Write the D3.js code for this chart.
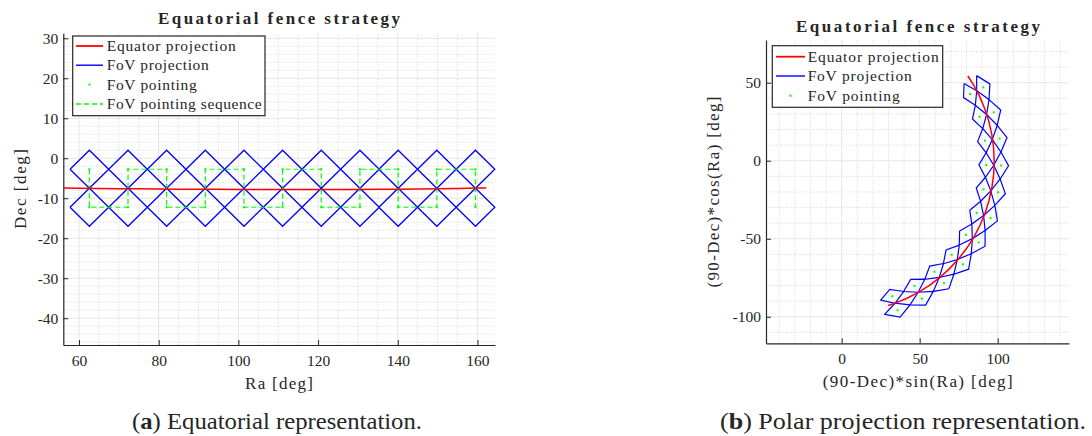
<!DOCTYPE html>
<html>
<head>
<meta charset="utf-8">
<script src="https://cdn.jsdelivr.net/npm/d3@7"></script>
<style>
  body { margin: 0; background: #fff; }
  text { font-family: "Liberation Serif", "DejaVu Serif", serif; fill: #262626; }
</style>
</head>
<body>
<script>
// ---------------- DATA ----------------
// FoV pointing centres (Ra, deg) and the two Dec rows (deg)
const pointRa = [62.6, 72.3, 82.0, 91.7, 101.4, 111.1, 120.8, 130.5, 140.1, 149.8, 159.5];
const pointDec = [-2.75, -12.25];
// FoV half diagonals (deg)
const fovHalfRa = 4.85;
const fovHalfDec = 4.75;
// Equator projection (Ra, Dec) in deg
const eqRa  = [56.1, 60, 65, 70, 75, 80, 85, 90, 95, 100, 105, 110, 115, 120, 125, 130, 135, 140, 145, 150, 155, 160, 162.2];
const eqDec = [-7.42, -7.48, -7.55, -7.6, -7.65, -7.69, -7.72, -7.75, -7.78, -7.8, -7.82, -7.83, -7.83, -7.83, -7.82, -7.8, -7.77, -7.73, -7.68, -7.62, -7.55, -7.46, -7.42];
// Ticks
const xTicksL = [60, 80, 100, 120, 140, 160];
const yTicksL = [-40, -30, -20, -10, 0, 10, 20, 30];
const xTicksR = [0, 50, 100];
const yTicksR = [-100, -50, 0, 50];
// Legend labels
const legendL = ["Equator projection", "FoV projection", "FoV pointing", "FoV pointing sequence"];
const legendR = ["Equator projection", "FoV projection", "FoV pointing"];

// ---------------- SETUP ----------------
const W = 1092, H = 436;
const svg = d3.select("body").append("svg").attr("width", W).attr("height", H);
svg.append("rect").attr("width", W).attr("height", H).attr("fill", "#fff");

const axisCol = "#262626";
const RED = "#ff0000", BLUE = "#0000ff", GREEN = "#00ff00";

// pointing sequence: alternate top/bottom order per column
const seq = [];
pointRa.forEach((ra, i) => {
  const order = (i % 2 === 0) ? [pointDec[0], pointDec[1]] : [pointDec[1], pointDec[0]];
  order.forEach(d => seq.push([ra, d]));
});
const pointings = [];
pointRa.forEach(ra => pointDec.forEach(d => pointings.push([ra, d])));
const diamond = ([ra, dec]) => [
  [ra - fovHalfRa, dec], [ra, dec + fovHalfDec], [ra + fovHalfRa, dec], [ra, dec - fovHalfDec], [ra - fovHalfRa, dec]
];
const equator = eqRa.map((r, i) => [r, eqDec[i]]);
const rad = Math.PI / 180;
const polar = ([ra, dec]) => [(90 - dec) * Math.sin(ra * rad), (90 - dec) * Math.cos(ra * rad)];

function grid(g, x, y, xMaj, yMaj, xMin, yMin) {
  const [x0, x1] = x.range(), [y0, y1] = y.range();
  g.selectAll(".gxm").data(xMin).join("line")
    .attr("x1", d => x(d)).attr("x2", d => x(d)).attr("y1", y0).attr("y2", y1)
    .attr("stroke", "#cfcfcf").attr("stroke-width", 0.8).attr("stroke-dasharray", "1 1.5");
  g.selectAll(".gym").data(yMin).join("line")
    .attr("y1", d => y(d)).attr("y2", d => y(d)).attr("x1", x0).attr("x2", x1)
    .attr("stroke", "#cfcfcf").attr("stroke-width", 0.8).attr("stroke-dasharray", "1 1.5");
  g.selectAll(".gxM").data(xMaj).join("line")
    .attr("x1", d => x(d)).attr("x2", d => x(d)).attr("y1", y0).attr("y2", y1)
    .attr("stroke", "#e2e2e2").attr("stroke-width", 0.9);
  g.selectAll(".gyM").data(yMaj).join("line")
    .attr("y1", d => y(d)).attr("y2", d => y(d)).attr("x1", x0).attr("x2", x1)
    .attr("stroke", "#e2e2e2").attr("stroke-width", 0.9);
}
function range(a, b, s) { const o = []; for (let v = a; v <= b + 1e-9; v += s) o.push(+v.toFixed(6)); return o; }

function axes(x, y, xt, yt, xPad) {
  const gx = svg.append("g").attr("transform", `translate(0,${y.range()[0]})`)
    .call(d3.axisBottom(x).tickValues(xt).tickSizeInner(-5).tickSizeOuter(0).tickPadding(xPad).tickFormat(d => String(d)));
  const gy = svg.append("g").attr("transform", `translate(${x.range()[0]},0)`)
    .call(d3.axisLeft(y).tickValues(yt).tickSizeInner(-5).tickSizeOuter(0).tickPadding(5).tickFormat(d => String(d)));
  [gx, gy].forEach(g => {
    g.select(".domain").attr("stroke", axisCol).attr("stroke-width", 1.2);
    g.selectAll(".tick line").attr("stroke", axisCol).attr("stroke-width", 1);
    g.selectAll(".tick text").attr("font-family", "Liberation Serif").attr("font-size", 15.5).attr("fill", axisCol);
  });
}
function label(txt, x, y, size, len, opts = {}) {
  const t = svg.append("text").attr("x", x).attr("y", y).attr("text-anchor", opts.anchor || "middle")
    .attr("font-size", size).text(txt);
  if (opts.bold) t.attr("font-weight", "bold");
  if (opts.rotate) t.attr("transform", `rotate(-90,${x},${y})`);
  if (len) t.attr("textLength", len).attr("lengthAdjust", "spacing");
  return t;
}
function legend(x0, y0, w, h, rows, labels, rowYs, lx0, lx1, tx, lens) {
  const g = svg.append("g");
  g.append("rect").attr("x", x0).attr("y", y0).attr("width", w).attr("height", h)
    .attr("fill", "#fff").attr("stroke", axisCol).attr("stroke-width", 1.2);
  labels.forEach((lab, i) => {
    const yy = rowYs[i];
    const kind = rows[i];
    if (kind === "red" || kind === "blue" || kind === "dash") {
      g.append("line").attr("x1", lx0).attr("x2", lx1).attr("y1", yy).attr("y2", yy)
        .attr("stroke", kind === "red" ? RED : kind === "blue" ? BLUE : GREEN)
        .attr("stroke-width", kind === "red" ? 1.8 : 1.4)
        .attr("stroke-dasharray", kind === "dash" ? "5 3" : null);
    } else {
      g.append("rect").attr("x", (lx0 + lx1) / 2 - 1).attr("y", yy - 1).attr("width", 2).attr("height", 2).attr("fill", GREEN);
    }
    g.append("text").attr("x", tx).attr("y", yy + 5).attr("font-size", 15.5)
      .attr("textLength", lens[i]).attr("lengthAdjust", "spacing").text(lab);
  });
}

// ---------------- LEFT PANEL ----------------
const xL = d3.scaleLinear().domain([56.06, 164.4]).range([63.3, 495]);
const yL = d3.scaleLinear().domain([-46.7, 31.25]).range([345, 33.3]);
grid(svg.append("g"), xL, yL, xTicksL, yTicksL,
  range(60, 164, 5).filter(v => !xTicksL.includes(v)),
  range(-46, 30, 2).filter(v => !yTicksL.includes(v)));

const lineL = d3.line().x(d => xL(d[0])).y(d => yL(d[1]));
const gL = svg.append("g");
gL.selectAll(".dia").data(pointings).join("path")
  .attr("d", d => lineL(diamond(d))).attr("fill", "none").attr("stroke", BLUE).attr("stroke-width", 1.3);
gL.selectAll(".pt").data(pointings).join("rect")
  .attr("x", d => xL(d[0]) - 1).attr("y", d => yL(d[1]) - 1).attr("width", 2).attr("height", 2).attr("fill", GREEN);
gL.append("path").attr("d", lineL(seq)).attr("fill", "none").attr("stroke", GREEN)
  .attr("stroke-width", 1.2).attr("stroke-dasharray", "5 3");
gL.append("path").attr("d", lineL(equator)).attr("fill", "none").attr("stroke", RED).attr("stroke-width", 1.5);

axes(xL, yL, xTicksL, yTicksL, 9.5);
label("Equatorial fence strategy", 279, 23.5, 17, 242, { bold: true });
label("Ra [deg]", 279, 389, 17, 68);
label("Dec [deg]", 26, 189, 17, 80, { rotate: true });
legend(72.7, 36, 192.3, 79.7, ["red", "blue", "dot", "dash"], legendL, [46, 65.2, 84.6, 104], 76, 103, 106.7, [129, 102, 90, 155]);

// ---------------- RIGHT PANEL ----------------
const xR = d3.scaleLinear().domain([-48.5, 145.7]).range([766, 1069]);
const yR = d3.scaleLinear().domain([-117, 77.4]).range([343.3, 40]);
grid(svg.append("g"), xR, yR, xTicksR, yTicksR,
  range(-40, 140, 10).filter(v => !xTicksR.includes(v)),
  range(-110, 70, 10).filter(v => !yTicksR.includes(v)));

const lineR = d3.line().x(d => xR(polar(d)[0])).y(d => yR(polar(d)[1]));
const gR = svg.append("g");
gR.selectAll(".dia").data(pointings).join("path")
  .attr("d", d => lineR(diamond(d))).attr("fill", "none").attr("stroke", BLUE).attr("stroke-width", 1.2);
gR.selectAll(".pt").data(pointings).join("rect")
  .attr("x", d => xR(polar(d)[0]) - 1).attr("y", d => yR(polar(d)[1]) - 1).attr("width", 2).attr("height", 2).attr("fill", GREEN);
gR.append("path").attr("d", lineR(equator)).attr("fill", "none").attr("stroke", RED).attr("stroke-width", 1.5);

axes(xR, yR, xTicksR, yTicksR, 10);
label("Equatorial fence strategy", 918, 31.5, 17, 244, { bold: true });
label("(90-Dec)*sin(Ra) [deg]", 917.7, 387, 17, 190);
label("(90-Dec)*cos(Ra) [deg]", 719, 192, 17, 191, { rotate: true });
legend(772.3, 45.7, 170.4, 61.6, ["red", "blue", "dot"], legendR, [56.7, 76, 95.7], 776, 805, 807.7, [131, 104, 92]);

// ---------------- CAPTIONS ----------------
function caption(letter, rest, cx, y, len) {
  const t = svg.append("text").attr("x", cx).attr("y", y).attr("text-anchor", "middle")
    .attr("font-size", 22.5).attr("fill", "#111").attr("textLength", len).attr("lengthAdjust", "spacingAndGlyphs");
  t.append("tspan").text("(");
  t.append("tspan").attr("font-weight", "bold").text(letter);
  t.append("tspan").text(") " + rest);
}
caption("a", "Equatorial representation.", 277, 429, 290);
caption("b", "Polar projection representation.", 903, 429, 366);
</script>
</body>
</html>
